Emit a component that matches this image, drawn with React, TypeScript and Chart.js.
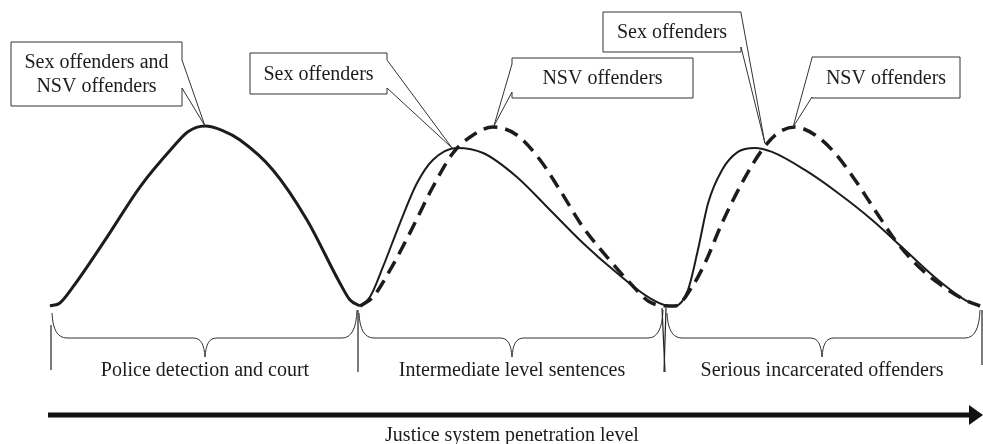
import React, { useEffect, useRef } from "react";
import { Chart, registerables } from "chart.js";
Chart.register(...registerables);

// x: justice system penetration (0-100 police/court, 100-200 intermediate, 200-300 incarcerated)
// y: relative share of offenders (0-100)
const stage1X = [0, 3.2, 7.4, 18.4, 29.0, 39.7, 44.5, 50, 55.5, 61.3, 71.9, 82.9, 93.5, 96.8, 100];
const stage1Y = [0, 1.7, 10.6, 38.3, 66.1, 88.3, 96.8, 100, 97.6, 92.2, 75.6, 47.8, 12.8, 3.3, 0];

const sexX = [100, 103.2, 107.4, 112.9, 118.4, 123.5, 131.3, 139.7, 150.6, 161.3, 171.9, 182.9, 193.5, 200,
  201.6, 205.8, 209.0, 212.3, 216.8, 221.9, 227.4, 232.9, 243.5, 254.2, 265.2, 275.8, 286.5, 295.2, 300];
const sexY = [0, 5, 21.7, 46.1, 68.3, 81.1, 87.8, 85, 71.7, 53.3, 35, 18.3, 4.4, 0,
  0, 8.9, 31.1, 57.2, 75.6, 85.6, 87.8, 85.6, 75.6, 62.8, 47.8, 31.1, 14.4, 3.3, 0];

const nsvX = [100, 104.2, 109.7, 116.1, 123.5, 130.0, 136.5, 142.9, 150.6, 158.1, 164.5, 171.9, 179.7, 187.1, 193.5, 200,
  201.6, 207.1, 211.3, 216.8, 223.2, 229.7, 234.8, 240.3, 246.8, 253.2, 259.7, 266.1, 272.6, 279.0, 286.5, 295.2, 300];
const nsvY = [0, 5, 20, 40.6, 66.1, 85, 95, 99.4, 95, 81.1, 64.4, 43.9, 27.2, 12.8, 2.2, 0,
  0, 10.6, 23.9, 46.1, 68.3, 86.7, 96.1, 99.4, 95, 85, 70, 53.3, 36.7, 23.9, 12.8, 3.3, 0];

const stageLabels = ["Police detection and court", "Intermediate level sentences", "Serious incarcerated offenders"];
const axisTitle = "Justice system penetration level";

const calloutTexts = [
  ["Sex offenders and", "NSV offenders"],
  ["Sex offenders"],
  ["NSV offenders"],
  ["Sex offenders"],
  ["NSV offenders"],
];
// where each callout points, in data units
const calloutTipX = [50, 129.7, 143.2, 230.6, 239.7];
const calloutTipY = [100, 87.8, 100, 90.5, 99.4];

// layout (pixels)
const calloutLayout = [
  { l: 11, t: 42, r: 182, b: 106, side: "right", a1: 60, a2: 88 },
  { l: 250, t: 53, r: 387, b: 94, side: "right", a1: 60, a2: 88 },
  { l: 512, t: 58, r: 693, b: 98, side: "left", a1: 64, a2: 92 },
  { l: 603, t: 12, r: 741, b: 52, side: "right", a1: 13, a2: 47 },
  { l: 812, t: 57, r: 960, b: 98, side: "left", a1: 58, a2: 97 },
];
const braceLayout = [
  { x1: 51, x2: 358, xm: 205 },
  { x1: 358, x2: 664, xm: 512 },
  { x1: 666, x2: 981, xm: 822 },
];

const FONT = "20px 'Liberation Serif', 'Times New Roman', serif";
const INK = "#1c1c1c";

const toPts = (xs: number[], ys: number[]) => xs.map((x, i) => ({ x, y: ys[i] }));

const decorPlugin = {
  id: "decor",
  afterDatasetsDraw(chart: any) {
    const ctx: CanvasRenderingContext2D = chart.ctx;
    const xs = chart.scales.x;
    const ys = chart.scales.y;
    ctx.save();

    // callouts
    calloutLayout.forEach((c, i) => {
      const tx = xs.getPixelForValue(calloutTipX[i]);
      const ty = ys.getPixelForValue(calloutTipY[i]);
      ctx.beginPath();
      if (c.side === "right") {
        ctx.moveTo(c.l, c.t);
        ctx.lineTo(c.r, c.t);
        ctx.lineTo(c.r, c.a1);
        ctx.lineTo(tx, ty);
        ctx.lineTo(c.r, c.a2);
        ctx.lineTo(c.r, c.b);
        ctx.lineTo(c.l, c.b);
      } else {
        ctx.moveTo(c.l, c.t);
        ctx.lineTo(c.r, c.t);
        ctx.lineTo(c.r, c.b);
        ctx.lineTo(c.l, c.b);
        ctx.lineTo(c.l, c.a2);
        ctx.lineTo(tx, ty);
        ctx.lineTo(c.l, c.a1);
      }
      ctx.closePath();
      ctx.fillStyle = "#ffffff";
      ctx.fill();
      ctx.strokeStyle = "#333";
      ctx.lineWidth = 1;
      ctx.stroke();
      ctx.fillStyle = INK;
      ctx.font = FONT;
      ctx.textAlign = "center";
      ctx.textBaseline = "middle";
      const lines = calloutTexts[i];
      const cx = (c.l + c.r) / 2;
      const cy = (c.t + c.b) / 2;
      const lh = 24;
      lines.forEach((ln, k) => {
        ctx.fillText(ln, cx, cy + (k - (lines.length - 1) / 2) * lh + 1);
      });
    });

    // braces
    ctx.strokeStyle = "#333";
    ctx.lineWidth = 1;
    braceLayout.forEach((b) => {
      const top = 313, mid = 338, tip = 357;
      ctx.beginPath();
      ctx.moveTo(b.x1 + 1, top);
      ctx.quadraticCurveTo(b.x1 + 2, mid, b.x1 + 16, mid);
      ctx.lineTo(b.xm - 12, mid);
      ctx.bezierCurveTo(b.xm - 4, mid, b.xm - 1, mid + 6, b.xm, tip);
      ctx.bezierCurveTo(b.xm + 1, mid + 6, b.xm + 4, mid, b.xm + 12, mid);
      ctx.lineTo(b.x2 - 16, mid);
      ctx.quadraticCurveTo(b.x2 - 2, mid, b.x2 - 1, top - 3);
      ctx.stroke();
    });
    // boundary ticks
    ctx.strokeStyle = "#222";
    ctx.lineWidth = 1.2;
    const ticks = [
      [51, 325, 51, 370],
      [358, 310, 358, 372],
      [662, 308, 665, 372],
      [666, 308, 664, 372],
      [982, 310, 982, 365],
    ];
    ticks.forEach(([a, b, c, d]) => {
      ctx.beginPath();
      ctx.moveTo(a, b);
      ctx.lineTo(c, d);
      ctx.stroke();
    });

    // stage labels
    ctx.fillStyle = INK;
    ctx.font = FONT;
    ctx.textAlign = "center";
    ctx.textBaseline = "middle";
    braceLayout.forEach((b, i) => ctx.fillText(stageLabels[i], b.xm, 371));

    // arrow
    ctx.strokeStyle = "#111";
    ctx.lineWidth = 5;
    ctx.beginPath();
    ctx.moveTo(48, 415);
    ctx.lineTo(972, 415);
    ctx.stroke();
    ctx.fillStyle = "#111";
    ctx.beginPath();
    ctx.moveTo(969, 405);
    ctx.lineTo(983, 415);
    ctx.lineTo(969, 425);
    ctx.closePath();
    ctx.fill();

    ctx.fillStyle = INK;
    ctx.fillText(axisTitle, 512, 436);
    ctx.restore();
  },
};

export default function App() {
  const ref = useRef<HTMLCanvasElement | null>(null);
  useEffect(() => {
    if (!ref.current) return;
    const chart = new Chart(ref.current, {
      type: "line",
      data: {
        datasets: [
          {
            label: "Sex offenders and NSV offenders",
            data: toPts(stage1X, stage1Y),
            borderColor: INK,
            borderWidth: 3,
            pointRadius: 0,
            cubicInterpolationMode: "monotone",
            fill: false,
            clip: false,
          } as any,
          {
            label: "Sex offenders",
            data: toPts(sexX, sexY),
            borderColor: INK,
            borderWidth: 2,
            pointRadius: 0,
            cubicInterpolationMode: "monotone",
            fill: false,
            clip: false,
          },
          {
            label: "NSV offenders",
            data: toPts(nsvX, nsvY),
            borderColor: INK,
            borderWidth: 3.5,
            borderDash: [14, 8],
            pointRadius: 0,
            cubicInterpolationMode: "monotone",
            fill: false,
            clip: false,
          },
        ],
      },
      options: {
        responsive: false,
        animation: false,
        devicePixelRatio: 1,
        layout: { padding: { left: 50, right: 3, top: 126, bottom: 138 } },
        scales: {
          x: { type: "linear", min: 0, max: 300, display: false },
          y: { type: "linear", min: 0, max: 100, display: false },
        },
        plugins: { legend: { display: false }, tooltip: { enabled: false } },
        events: [],
      },
      plugins: [decorPlugin],
    });
    return () => chart.destroy();
  }, []);
  return (
    <div style={{ position: "absolute", left: 0, top: 0, width: 983, height: 444, background: "#fff" }}>
      <canvas ref={ref} width={983} height={444} style={{ display: "block" }} />
    </div>
  );
}
